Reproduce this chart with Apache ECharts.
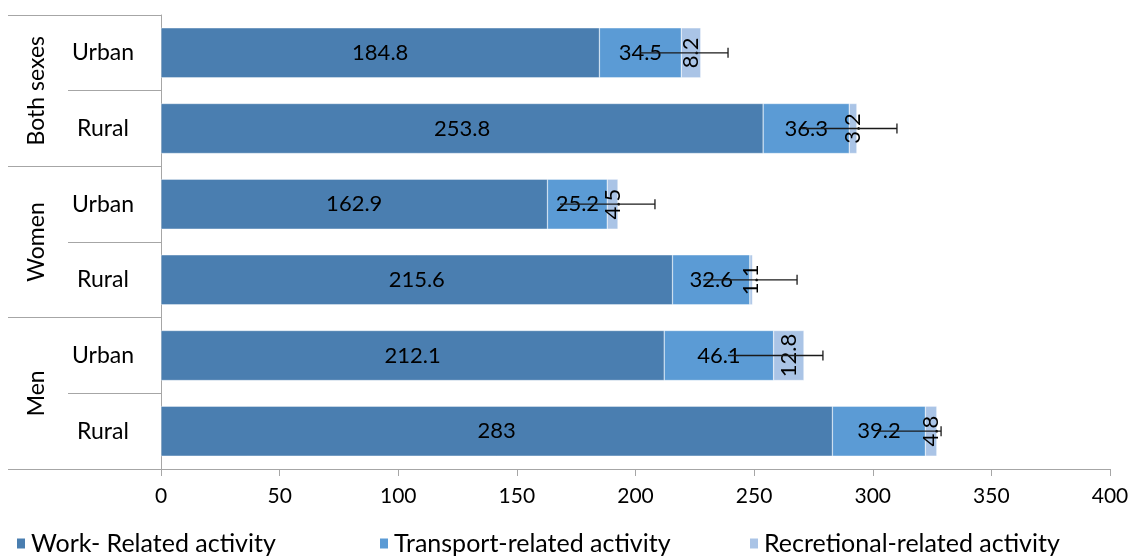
<!DOCTYPE html>
<html>
<head>
<meta charset="utf-8">
<script src="https://cdn.jsdelivr.net/npm/echarts@6/dist/echarts.min.js"></script>
<style>html,body{margin:0;padding:0;background:#fff;}#c{width:1133px;height:558px;}</style>
</head>
<body>
<div id="c"></div>
<script>
const groups = ['Both sexes', 'Women', 'Men'];
const rowLabels = ['Urban', 'Rural', 'Urban', 'Rural', 'Urban', 'Rural'];
const seriesNames = ['Work- Related activity', 'Transport-related activity', 'Recretional-related activity'];
const work = [184.8, 253.8, 162.9, 215.6, 212.1, 283];
const transport = [34.5, 36.3, 25.2, 32.6, 46.1, 39.2];
const recreational = [8.2, 3.2, 4.5, 1.1, 12.8, 4.8];
const errLow = [201.9, 270.2, 168.2, 228.5, 239, 302.2];
const errHigh = [239, 310.2, 208.2, 268.1, 279, 328.8];
const xTicks = [0, 50, 100, 150, 200, 250, 300, 350, 400];

const FONT = 'Lato';
const gray = '#a6a6a6';
const chart = echarts.init(document.getElementById('c'), null, {renderer: 'canvas'});

const labelBase = {show: true, color: '#000', fontFamily: FONT, fontSize: 22};
const legendLefts = [10, 373, 743];

chart.setOption({
  animation: false,
  textStyle: {fontFamily: FONT},
  grid: {left: 161, right: 23, top: 15, bottom: 89, containLabel: false},
  legend: seriesNames.map((n, i) => ({
    left: legendLefts[i], top: 526,
    itemWidth: 10, itemHeight: 12,
    icon: 'rect',
    textStyle: {fontFamily: FONT, fontSize: 25, color: '#000'},
    data: [n]
  })),
  xAxis: {
    type: 'value', min: xTicks[0], max: xTicks[xTicks.length - 1], interval: 50,
    axisLine: {show: true, lineStyle: {color: gray, width: 1}},
    axisTick: {show: true, length: 7, lineStyle: {color: gray}},
    splitLine: {show: false},
    axisLabel: {color: '#000', fontFamily: FONT, fontSize: 21, margin: 17}
  },
  yAxis: [
    {
      type: 'category', inverse: true, data: rowLabels,
      axisLine: {show: true, lineStyle: {color: gray}},
      axisTick: {show: true, length: 93, interval: 0, lineStyle: {color: gray}},
      axisLabel: {color: '#000', fontFamily: FONT, fontSize: 23, align: 'center', margin: 58, interval: 0}
    },
    {
      type: 'category', inverse: true, data: groups, position: 'left', offset: 0,
      axisLine: {show: false},
      axisTick: {show: true, length: 153, interval: 0, lineStyle: {color: gray}},
      axisLabel: {color: '#000', fontFamily: FONT, fontSize: 23, rotate: 90, align: 'center', verticalAlign: 'middle', margin: 124, interval: 0}
    }
  ],
  series: [
    {
      name: seriesNames[0], type: 'bar', stack: 'a', barWidth: '66%', data: work,
      itemStyle: {color: '#4a7eb0', borderColor: '#ffffff', borderWidth: 0.4},
      label: Object.assign({}, labelBase, {position: 'inside'})
    },
    {
      name: seriesNames[1], type: 'bar', stack: 'a', data: transport,
      itemStyle: {color: '#5b9bd5', borderColor: '#ffffff', borderWidth: 0.4},
      label: Object.assign({}, labelBase, {position: 'inside'})
    },
    {
      name: seriesNames[2], type: 'bar', stack: 'a', data: recreational,
      itemStyle: {color: '#aac4e6', borderColor: '#ffffff', borderWidth: 0.4},
      label: Object.assign({}, labelBase, {position: 'inside', rotate: 90, align: 'center', verticalAlign: 'middle'}),
      labelLayout: {hideOverlap: false}
    },
    {
      name: 'err', type: 'custom', z: 5,
      data: errLow.map((lo, i) => [i, lo, errHigh[i]]),
      encode: {x: [1, 2], y: 0},
      renderItem: function (params, api) {
        const idx = api.value(0);
        const p1 = api.coord([api.value(1), idx]);
        const p2 = api.coord([api.value(2), idx]);
        const cap = 5;
        return {
          type: 'group',
          children: [
            {type: 'line', shape: {x1: p1[0], y1: p1[1], x2: p2[0], y2: p2[1]}, style: {stroke: '#1a1a1a', lineWidth: 1.3}},
            {type: 'line', shape: {x1: p2[0], y1: p2[1] - cap, x2: p2[0], y2: p2[1] + cap}, style: {stroke: '#1a1a1a', lineWidth: 1.3}}
          ]
        };
      }
    }
  ]
});
</script>
</body>
</html>
